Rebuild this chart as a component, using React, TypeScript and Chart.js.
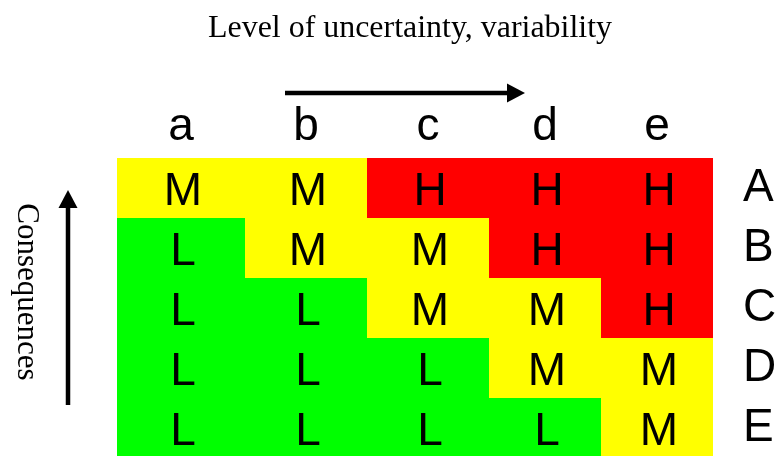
import React, { useEffect, useRef } from "react";
import { Chart, registerables } from "chart.js";

Chart.register(...registerables);

// ---- data ----
const columnLabels = ["a", "b", "c", "d", "e"];
const rowLabels = ["A", "B", "C", "D", "E"];
const columnSpans = [128, 122, 122, 112, 112];
const ratingsA = ["M", "M", "H", "H", "H"];
const ratingsB = ["L", "M", "M", "H", "H"];
const ratingsC = ["L", "L", "M", "M", "H"];
const ratingsD = ["L", "L", "L", "M", "M"];
const ratingsE = ["L", "L", "L", "L", "M"];
const ratings = [ratingsA, ratingsB, ratingsC, ratingsD, ratingsE];
const levelColors: Record<string, string> = { L: "#00FF00", M: "#FFFF00", H: "#FF0000" };
const titleText = "Level of uncertainty, variability";
const sideText = "Consequences";

const SANS = "'Liberation Sans', Arial, sans-serif";
const SERIF = "'Liberation Serif', 'Times New Roman', serif";

const totalSpan = columnSpans.reduce((s, v) => s + v, 0);
const columnCenters = columnSpans.map((w, i) => {
  const start = columnSpans.slice(0, i).reduce((s, v) => s + v, 0);
  return start + w / 2;
});

function drawArrow(ctx: CanvasRenderingContext2D, x1: number, y1: number, x2: number, y2: number) {
  const len = Math.hypot(x2 - x1, y2 - y1);
  const ux = (x2 - x1) / len;
  const uy = (y2 - y1) / len;
  const headLen = 18;
  const headHalf = 9.5;
  const bx = x2 - ux * headLen;
  const by = y2 - uy * headLen;
  ctx.beginPath();
  ctx.lineWidth = 4.5;
  ctx.strokeStyle = "#000";
  ctx.moveTo(x1, y1);
  ctx.lineTo(bx + ux * 2, by + uy * 2);
  ctx.stroke();
  ctx.beginPath();
  ctx.fillStyle = "#000";
  ctx.moveTo(x2, y2);
  ctx.lineTo(bx - uy * headHalf, by + ux * headHalf);
  ctx.lineTo(bx + uy * headHalf, by - ux * headHalf);
  ctx.closePath();
  ctx.fill();
}

const cellTextPlugin = {
  id: "cellText",
  afterDatasetsDraw(chart: any) {
    const ctx = chart.ctx as CanvasRenderingContext2D;
    ctx.save();
    ctx.font = `46px ${SANS}`;
    ctx.fillStyle = "#000";
    ctx.textAlign = "center";
    ctx.textBaseline = "alphabetic";
    chart.data.datasets.forEach((_ds: any, c: number) => {
      const meta = chart.getDatasetMeta(c);
      meta.data.forEach((el: any, r: number) => {
        const p = el.getProps(["x", "base", "y"], true);
        ctx.fillText(ratings[r][c], (p.x + p.base) / 2 + 2, p.y + 16.5);
      });
    });
    ctx.restore();
  },
};

const decorPlugin = {
  id: "decor",
  afterDraw(chart: any) {
    const ctx = chart.ctx as CanvasRenderingContext2D;
    const a = chart.chartArea;
    ctx.save();
    ctx.fillStyle = "#000";
    ctx.textAlign = "center";
    ctx.textBaseline = "alphabetic";
    ctx.font = `32px ${SERIF}`;
    ctx.fillText(titleText, a.left + 293, 37, 404);

    drawArrow(ctx, a.left + 168, a.top - 65, a.left + 408, a.top - 65);

    ctx.save();
    ctx.translate(18, a.top + 134);
    ctx.rotate(Math.PI / 2);
    ctx.font = `31px ${SERIF}`;
    ctx.textAlign = "center";
    ctx.fillText(sideText, 0, 0, 178);
    ctx.restore();

    drawArrow(ctx, a.left - 49, a.top + 247, a.left - 49, a.top + 32);
    ctx.restore();
  },
};

export default function App() {
  const ref = useRef<HTMLCanvasElement | null>(null);

  useEffect(() => {
    if (!ref.current) return;
    const chart = new Chart(ref.current, {
      type: "bar",
      data: {
        labels: rowLabels,
        datasets: columnLabels.map((lab, c) => ({
          label: lab,
          data: rowLabels.map(() => columnSpans[c]),
          backgroundColor: rowLabels.map((_, r) => levelColors[ratings[r][c]]),
          borderWidth: 0,
          inflateAmount: 0,
          barPercentage: 1,
          categoryPercentage: 1,
        })),
      },
      options: {
        indexAxis: "y",
        animation: false,
        responsive: false,
        maintainAspectRatio: false,
        events: [],
        layout: { padding: { left: 117, top: 0, right: 0, bottom: 0 } },
        plugins: {
          legend: { display: false },
          tooltip: { enabled: false },
          title: { display: false },
        },
        scales: {
          x: {
            type: "linear",
            position: "top",
            stacked: true,
            min: 0,
            max: totalSpan,
            grid: { display: false, drawTicks: false },
            border: { display: false },
            afterBuildTicks: (scale: any) => {
              scale.ticks = columnCenters.map((v) => ({ value: v }));
            },
            afterFit: (scale: any) => {
              scale.height = 158;
              scale.paddingLeft = 0;
              scale.paddingRight = 0;
            },
            ticks: {
              autoSkip: false,
              maxRotation: 0,
              padding: 3,
              color: "#000",
              font: { family: SANS, size: 46 },
              callback: (_v: any, i: number) => columnLabels[i],
            },
          },
          y: {
            type: "category",
            position: "right",
            stacked: true,
            grid: { display: false, drawTicks: false },
            border: { display: false },
            afterFit: (scale: any) => {
              scale.width = 63;
              scale.paddingTop = 0;
              scale.paddingBottom = 0;
            },
            ticks: {
              autoSkip: false,
              padding: 30,
              color: "#000",
              font: { family: SANS, size: 46 },
            },
          },
        },
      },
      plugins: [cellTextPlugin, decorPlugin],
    } as any);
    return () => chart.destroy();
  }, []);

  return (
    <div
      style={{
        position: "fixed",
        left: 0,
        top: 0,
        width: 776,
        height: 456,
        overflow: "hidden",
        background: "#fff",
      }}
    >
      <canvas ref={ref} width={776} height={458} style={{ display: "block", width: 776, height: 458 }} />
    </div>
  );
}
